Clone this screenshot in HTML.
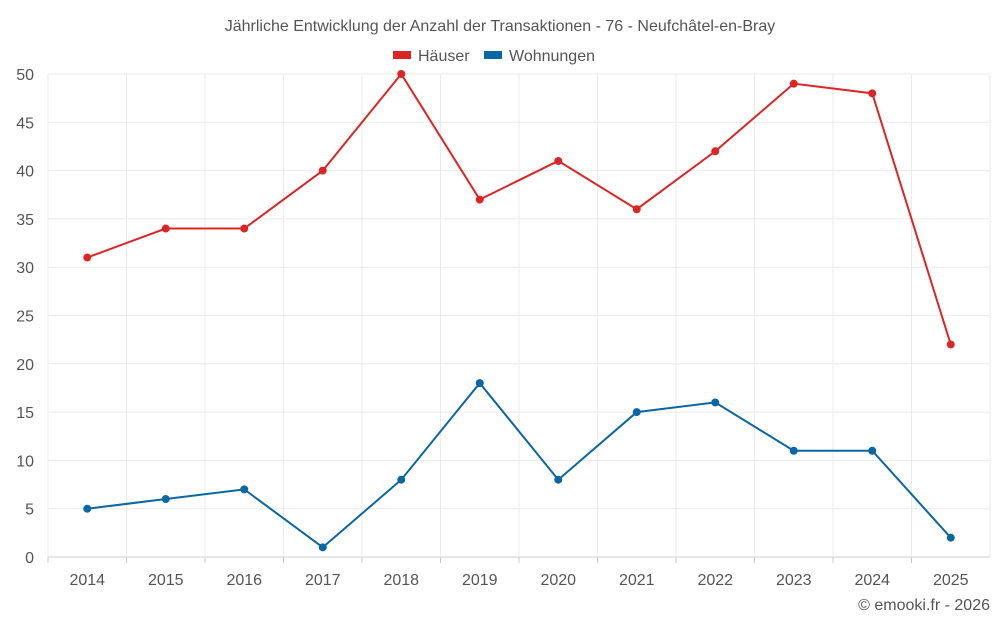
<!DOCTYPE html>
<html><head><meta charset="utf-8"><style>
body{margin:0;background:#fff;font-family:"Liberation Sans",sans-serif}
svg text{font-family:"Liberation Sans",sans-serif}
</style></head><body>
<svg id="chart" width="1000" height="625" xmlns="http://www.w3.org/2000/svg">
<text x="500" y="31" text-anchor="middle" font-size="16" fill="#555">Jährliche Entwicklung der Anzahl der Transaktionen - 76 - Neufchâtel-en-Bray</text>
<g>
<g><rect x="393" y="51" width="18" height="8" fill="#dc2626"/><text x="418" y="61" font-size="16" fill="#555">Häuser</text></g>
<g><rect x="484" y="51" width="18" height="8" fill="#0a67a3"/><text x="509" y="61" font-size="16" fill="#555">Wohnungen</text></g>
</g>
<g id="grid"></g>
<g id="axes"></g>
<g id="series"></g>
<text x="990" y="610" text-anchor="end" font-size="16" fill="#555">© emooki.fr - 2026</text>
</svg>
<script>
const years = ["2014","2015","2016","2017","2018","2019","2020","2021","2022","2023","2024","2025"];
const haeuser = [31,34,34,40,50,37,41,36,42,49,48,22];
const wohnungen = [5,6,7,1,8,18,8,15,16,11,11,2];
const yTicks = [0,5,10,15,20,25,30,35,40,45,50];
const NS="http://www.w3.org/2000/svg";
const L=48,R=990,T=74,B=557,yMax=50;
const bw=(R-L)/years.length;
const x=i=>L+bw*(i+0.5);
const y=v=>B-(v/yMax)*(B-T);
function mk(tag,attrs,parent){const e=document.createElementNS(NS,tag);for(const k in attrs)e.setAttribute(k,attrs[k]);parent.appendChild(e);return e;}
const grid=document.getElementById('grid'),axes=document.getElementById('axes'),series=document.getElementById('series');
yTicks.forEach(t=>{
  const l=mk('line',{x1:L,x2:R,y1:y(t),y2:y(t),stroke:t===0?'#ccc':'#ebebeb','stroke-width':1},grid);
  
  
  const tx=mk('text',{x:34,y:y(t)+6,'text-anchor':'end','font-size':16,fill:'#555'},axes);
  tx.textContent=t;
  
  
});
for(let i=0;i<=years.length;i++){
  const l=mk('line',{x1:L+bw*i,x2:L+bw*i,y1:T,y2:B,stroke:'#ebebeb','stroke-width':1},grid);
  
  
}
years.forEach((yr,i)=>{
  const tk=mk('line',{x1:L+bw*i,x2:L+bw*i,y1:B,y2:B+6,stroke:'#ccc'},axes);
  
  
  const tx=mk('text',{x:x(i),y:585,'text-anchor':'middle','font-size':16,fill:'#555'},axes);
  tx.textContent=yr;
  
  
});
function draw(vals,color,name){
  const p=mk('polyline',{points:vals.map((v,i)=>x(i)+','+y(v)).join(' '),fill:'none',stroke:color,'stroke-width':2},series);
  
  
  vals.forEach((v,i)=>{
    const c=mk('circle',{cx:x(i),cy:y(v),r:4,fill:color},series);
    
    
  });
}
draw(haeuser,'#dc2626','haeuser');
draw(wohnungen,'#0a67a3','wohnungen');
</script>
</body></html>
